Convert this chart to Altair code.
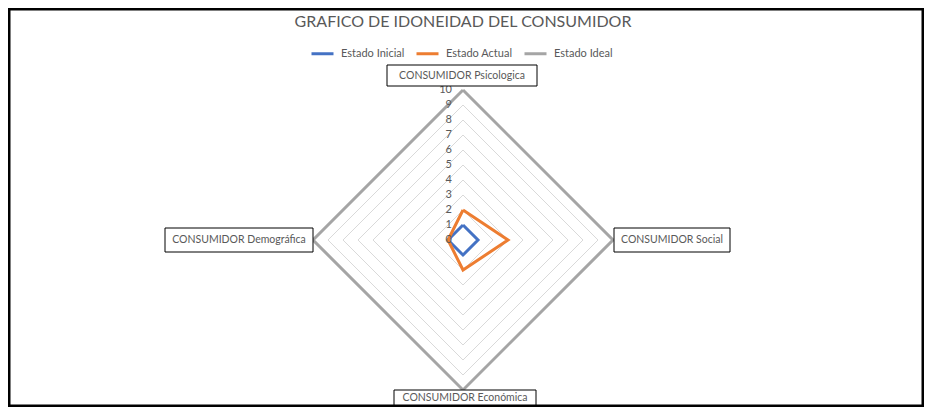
import math
import altair as alt
import pandas as pd

# ---- data ----
categories = ["CONSUMIDOR Psicologica", "CONSUMIDOR Social",
              "CONSUMIDOR Económica", "CONSUMIDOR Demográfica"]
estado_inicial = [1, 1, 1, 1]
estado_actual = [2, 3, 2, 1]
estado_ideal = [10, 10, 10, 10]
series_names = ["Estado Inicial", "Estado Actual", "Estado Ideal"]
tick_values = [0, 1, 2, 3, 4, 5, 6, 7, 8, 9, 10]
title_text = "GRAFICO DE IDONEIDAD DEL CONSUMIDOR"

# ---- layout / style ----
series_colors = ["#4472C4", "#ED7D31", "#A5A5A5"]
axis_angles = [90, 0, -90, 180]  # top, right, bottom, left
W, H = 916, 399
CX, CY, UNIT = 455, 232, 15.0  # centre of radar (chart px), px per unit
XDOM = [-CX / UNIT, (W - CX) / UNIT]
YDOM = [-(H - CY) / UNIT, CY / UNIT]
FONT = "Lato"
TXT = "#595959"


def px(sx):  # screenshot x -> data
    return (sx - 8 - CX) / UNIT


def py(sy):  # screenshot y -> data
    return (CY - (sy - 8)) / UNIT


def polygon(values, name):
    rows = []
    for i in range(len(values) + 1):
        k = i % len(values)
        a = math.radians(axis_angles[k])
        rows.append({"serie": name, "order": i,
                     "x": values[k] * math.cos(a), "y": values[k] * math.sin(a)})
    return rows


X = lambda f="x": alt.X(f"{f}:Q", scale=alt.Scale(domain=XDOM, nice=False, zero=False), axis=None)
Y = lambda f="y": alt.Y(f"{f}:Q", scale=alt.Scale(domain=YDOM, nice=False, zero=False), axis=None)

# gridlines
grid_rows = []
for r in tick_values[1:]:
    for row in polygon([r] * 4, str(r)):
        grid_rows.append(row)
grid = alt.Chart(pd.DataFrame(grid_rows)).mark_line(
    color="#D9D9D9", strokeWidth=1, strokeJoin="miter"
).encode(x=X(), y=Y(), detail="serie:N", order="order:Q")

color = alt.Color(
    "serie:N",
    scale=alt.Scale(domain=series_names, range=series_colors),
    legend=alt.Legend(
        orient="none", legendX=302, legendY=33, direction="horizontal", title=None,
        symbolType="stroke", symbolSize=484, symbolStrokeWidth=3,
        labelFont=FONT, labelFontSize=11, labelColor=TXT, labelOffset=6,
        columnPadding=5,
    ),
)

series_layers = []
for name, vals in zip(series_names, [estado_inicial, estado_actual, estado_ideal]):
    series_layers.append(
        alt.Chart(pd.DataFrame(polygon(vals, name))).mark_line(
            strokeWidth=3, strokeJoin="miter"
        ).encode(x=X(), y=Y(), color=color, order="order:Q")
    )

# radial tick labels
ticks = alt.Chart(pd.DataFrame({"v": tick_values, "x0": [0] * len(tick_values)})).mark_text(
    align="right", baseline="middle", dx=-11, font=FONT, fontSize=11, color=TXT
).encode(x=X("x0"), y=Y("v"), text="v:Q")

# category label boxes (screenshot px: left, right, top, bottom)
boxes = pd.DataFrame({
    "label": categories,
    "x1": [px(387), px(614), px(394), px(165)],
    "x2": [px(537), px(730), px(536), px(313)],
    "y1": [py(65), py(228), py(390), py(228)],
    "y2": [py(86), py(252), py(414), py(252)],
})
boxes["xc"] = (boxes["x1"] + boxes["x2"]) / 2
boxes["yc"] = (boxes["y1"] + boxes["y2"]) / 2
boxes.loc[2, "yc"] = py(398)
box_rect = alt.Chart(boxes).mark_rect(fill="white", stroke="black", strokeWidth=1).encode(
    x=X("x1"), x2="x2", y=Y("y1"), y2="y2")
box_text = alt.Chart(boxes).mark_text(
    font=FONT, fontSize=10.5, color=TXT, align="center", baseline="middle"
).encode(x=X("xc"), y=Y("yc"), text="label:N")

title = alt.Chart(pd.DataFrame({"t": [title_text], "x": [px(463)], "y": [py(22)]})).mark_text(
    font=FONT, fontSize=16, color=TXT, align="center", baseline="middle"
).encode(x=X(), y=Y(), text="t:N")

border = alt.Chart(pd.DataFrame({"a": [0]})).mark_rect(
    fill=None, stroke="black", strokeWidth=5
).encode(x=alt.value(0), x2=alt.value(W), y=alt.value(0), y2=alt.value(H))

chart = alt.layer(
    grid, *series_layers, ticks, box_rect, box_text, title, border
).properties(
    width=W, height=H, padding=0, autosize=alt.AutoSizeParams(type="none"),
    background="white",
).configure_view(stroke=None)

chart.save("out.html", embed_options={"renderer": "svg", "actions": False})
